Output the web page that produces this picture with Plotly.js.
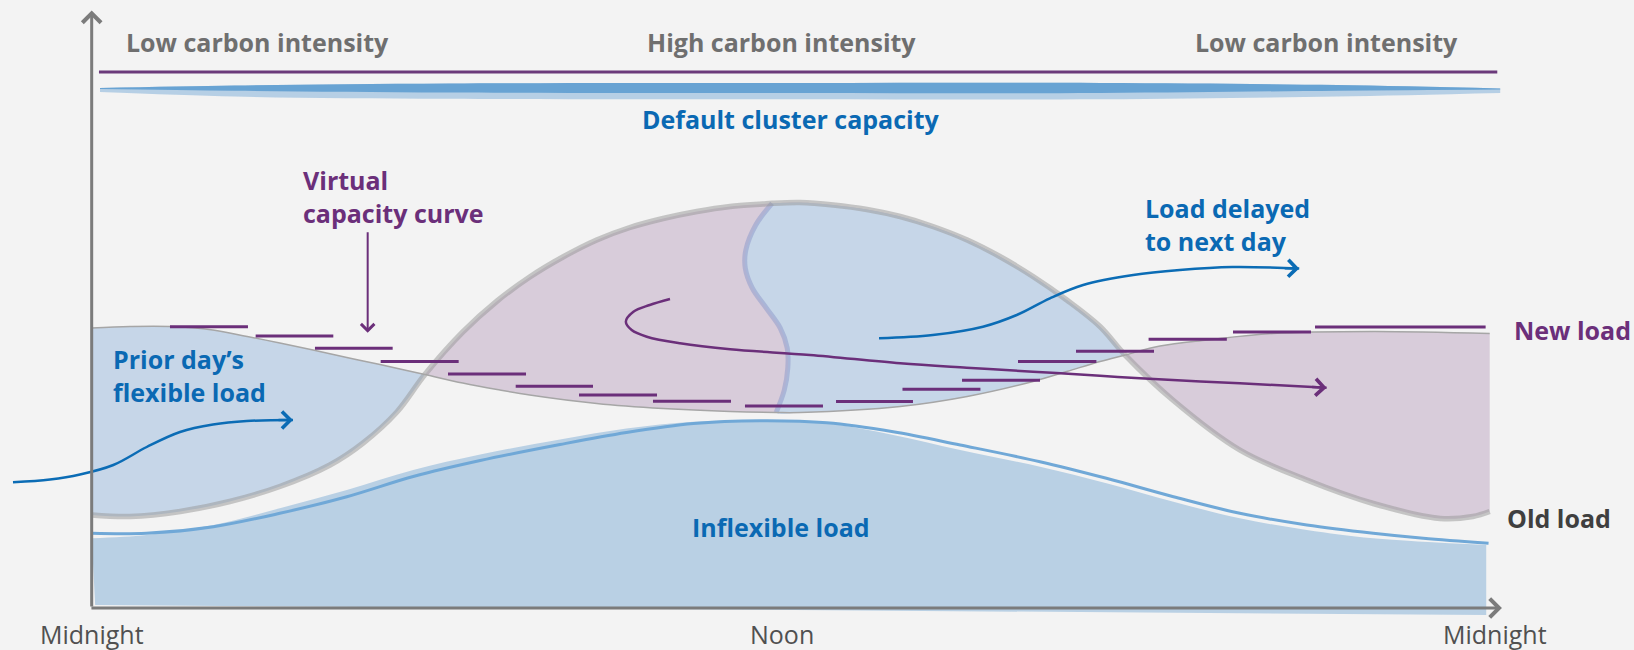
<!DOCTYPE html>
<html>
<head>
<meta charset="utf-8">
<script src="https://cdn.plot.ly/plotly-3.0.1.min.js"></script>
<style>
html,body{margin:0;padding:0;background:#f3f3f3;}
#chart{width:1634px;height:650px;}
</style>
</head>
<body>
<div id="chart"></div>
<script>
// ---------------- DATA (hours of day, load in % of scale) ----------------
const timeTicks = [0, 12, 24];
const timeLabels = ['Midnight', 'Noon', 'Midnight'];

const carbonHours = [2.855, 11.84, 21.2];
const carbonLabels = ['Low carbon intensity', 'High carbon intensity', 'Low carbon intensity'];
const carbonLineLevel = 107.1;
const carbonLineHours = [0.125, 24.13];

// Default cluster capacity band (tapered)
const capHour = [0.143, 2.46, 6.15, 12.16, 17.31, 21.38, 24.18];
const capLightTop = [103.9, 104.4, 104.8, 104.9, 104.9, 104.5, 103.8];
const capLightBottom = [103.1, 102.2, 101.74, 101.64, 101.64, 102.2, 102.9];
const capDarkTop = [103.9, 104.4, 104.8, 104.9, 104.9, 104.5, 103.8];
const capDarkBottom = [103.7, 103.36, 103.0, 102.9, 102.9, 103.36, 103.6];

// Old load (thick grey curve)
const oldLoadHour = [0, 0.66, 1.52, 2.37, 3.23, 4.09, 4.66, 5.24, 5.72, 6.37, 6.96, 7.52, 8.09, 8.67, 9.24, 9.81, 10.39, 10.96, 11.52, 11.68, 12.16, 12.73, 13.31, 13.88, 14.44, 15.03, 15.59, 16.16, 16.74, 17.31, 17.74, 18.56, 19.71, 20.86, 22.0, 23.15, 23.71, 24.0];
const oldLoad = [18.5, 18.2, 19.2, 21.2, 24.2, 28.5, 32.9, 39.1, 46.6, 55.1, 61.3, 66.1, 70.1, 73.5, 76.0, 77.8, 79.2, 80.2, 80.7, 80.84, 81.0, 80.5, 79.6, 78.2, 76.2, 73.5, 70.2, 66.2, 61.5, 56.2, 50.5, 41.5, 31.5, 25.5, 20.8, 17.8, 18.2, 19.2];

// New load (thin grey curve)
const newLoadHour = [0, 0.66, 1.35, 2.08, 2.67, 3.23, 3.80, 4.38, 4.95, 5.72, 6.37, 6.96, 7.52, 8.67, 9.81, 10.96, 11.75, 12.16, 13.88, 15.03, 16.16, 16.74, 17.31, 17.74, 18.34, 19.15, 20.28, 22.0, 24.0];
const newLoad = [55.9, 56.2, 56.2, 55.5, 54.2, 52.9, 51.5, 50.0, 48.6, 46.6, 44.9, 43.6, 42.5, 40.8, 39.8, 39.2, 39.0, 39.0, 40.2, 42.2, 45.2, 47.2, 49.2, 50.5, 52.3, 53.5, 54.8, 55.2, 54.8];

// Where old and new load cross
const crossHours = [5.72, 17.74];

// Split between shifted (purple) and remaining (blue) load around noon
const boundaryHour = [11.68, 11.40, 11.23, 11.22, 11.34, 11.58, 11.82, 11.94, 11.95, 11.89, 11.75];
const boundaryLoad = [80.84, 76.5, 71.5, 67.9, 63.9, 59.9, 55.9, 51.9, 47.9, 43.5, 39.0];

// Inflexible load
const inflexHour = [0, 0.94, 2.09, 3.23, 4.38, 5.52, 6.67, 8.04, 9.18, 10.33, 11.47, 12.62, 13.76, 14.91, 16.28, 17.42, 18.57, 19.71, 20.86, 22.0, 22.86, 23.98];
const inflexLoad = [14.84, 14.84, 16.16, 18.84, 22.16, 26.2, 29.4, 32.6, 35.0, 36.8, 37.36, 36.96, 35.16, 32.5, 29.16, 25.84, 22.16, 18.84, 16.5, 14.84, 13.84, 12.84];
const inflexFillHour = [0, 0.94, 2.09, 3.23, 4.38, 5.52, 6.67, 8.04, 9.18, 10.33, 11.47, 12.62, 13.76, 14.91, 16.28, 17.42, 18.57, 19.71, 20.86, 22.0, 23.94];
const inflexFillLoad = [13.84, 14.5, 16.5, 19.84, 23.5, 27.5, 30.6, 33.6, 35.8, 37.16, 37.5, 36.84, 34.5, 31.5, 28.16, 24.84, 21.16, 17.84, 15.5, 13.84, 12.5];
const inflexBaseHour = [0.06, 23.94];
const inflexBaseLoad = [0.5, -1.5];

// Virtual capacity curve (steps)
const vcStart = [1.344, 2.815, 3.833, 4.961, 6.117, 7.279, 8.366, 9.636, 11.215, 12.778, 13.919, 14.941, 15.902, 16.898, 18.144, 19.593, 21.001];
const vcEnd = [2.683, 4.148, 5.167, 6.300, 7.456, 8.606, 9.705, 10.975, 12.554, 14.099, 15.257, 16.280, 17.248, 18.237, 19.487, 20.932, 23.930];
const vcLevel = [56.16, 54.3, 51.84, 49.2, 46.7, 44.24, 42.5, 41.24, 40.3, 41.2, 43.64, 45.46, 49.2, 51.24, 53.64, 55.1, 56.1];
const vcPointerHour = 4.738;
const vcPointerFrom = 75.36, vcPointerTo = 54.96;

// Flow arrows
const shiftHour = [9.928, 9.58, 9.30, 9.17, 9.27, 9.53, 10.10, 10.96, 12.33, 13.88, 15.02, 16.16, 17.31, 17.996, 19.71, 21.2];
const shiftLoad = [61.7, 60.5, 59.16, 57.16, 55.5, 54.16, 52.84, 51.64, 50.5, 48.84, 47.96, 47.16, 46.36, 45.84, 44.84, 43.96];
const delayHour = [13.516, 14.44, 15.30, 15.88, 16.45, 17.02, 17.88, 18.68, 19.58, 20.73];
const delayLoad = [53.84, 54.5, 56.16, 58.5, 61.84, 64.5, 66.5, 67.5, 68.1, 67.8];
const priorHour = [-1.351, -0.716, -0.201, 0.371, 0.945, 1.516, 2.083, 2.661, 3.456];
const priorLoad = [25.04, 25.6, 26.6, 28.5, 32.1, 35.1, 36.6, 37.3, 37.5];

// ---------------- STYLE ----------------
const BG = '#f3f3f3';
const BLUE_FILL = 'rgb(198,214,232)';
const PURPLE_FILL = 'rgb(216,204,218)';
const INFLEX_FILL = 'rgb(185,208,228)';
const PURPLE = '#6b2f7a';
const BLUE = '#0b6cb5';
const FONT = 'Open Sans, Noto Sans, sans-serif';

function between(xs, ys, a, b) {
  const X = [], Y = [];
  xs.forEach((x, i) => { if (x >= a - 1e-9 && x <= b + 1e-9) { X.push(x); Y.push(ys[i]); } });
  return {x: X, y: Y};
}
const base = {mode: 'lines', hoverinfo: 'skip', showlegend: false};
const traces = [];
function add(t) { traces.push(Object.assign({}, base, t)); }

// Inflexible load area
add({x: inflexBaseHour, y: inflexBaseLoad, line: {width: 0}});
add({x: inflexFillHour, y: inflexFillLoad, line: {width: 0, shape: 'spline'}, fill: 'tonexty', fillcolor: INFLEX_FILL});
add({x: inflexHour, y: inflexLoad, line: {color: '#70a8d7', width: 3, shape: 'spline'}});

// Lens fills between old and new load
const [c1, c2] = crossHours;
function lens(a, b, color) {
  const o = between(oldLoadHour, oldLoad, a, b), n = between(newLoadHour, newLoad, a, b);
  add({x: o.x, y: o.y, line: {width: 0, shape: 'spline'}});
  add({x: n.x, y: n.y, line: {width: 0, shape: 'spline'}, fill: 'tonexty', fillcolor: color});
}
lens(0, c1, BLUE_FILL);
lens(c1, c2, PURPLE_FILL);
lens(c2, 24, PURPLE_FILL);

// Remaining (blue) part of the midday lens
(function () {
  const bt = boundaryHour[0], bb = boundaryHour[boundaryHour.length - 1];
  const o = between(oldLoadHour, oldLoad, bt, c2);
  const n = between(newLoadHour, newLoad, bb, c2);
  const bx = boundaryHour.slice().reverse().slice(1, -1);
  const by = boundaryLoad.slice().reverse().slice(1, -1);
  add({x: o.x.concat(n.x.slice().reverse(), bx), y: o.y.concat(n.y.slice().reverse(), by),
       line: {width: 0, shape: 'spline', smoothing: 0.8}, fill: 'toself', fillcolor: BLUE_FILL});
})();

add({x: boundaryHour, y: boundaryLoad, line: {color: 'rgba(150,160,205,0.6)', width: 5, shape: 'spline'}});
add({x: oldLoadHour, y: oldLoad, line: {color: 'rgba(150,150,150,0.5)', width: 5.5, shape: 'spline'}});
add({x: newLoadHour, y: newLoad, line: {color: '#a6a6a6', width: 1.5, shape: 'spline'}});

// Virtual capacity steps
(function () {
  const x = [], y = [];
  vcStart.forEach((s, i) => { x.push(s, vcEnd[i], null); y.push(vcLevel[i], vcLevel[i], null); });
  add({x, y, line: {color: PURPLE, width: 3}});
})();

// Flow arrows
add({x: shiftHour, y: shiftLoad, line: {color: PURPLE, width: 2.5, shape: 'spline'}});
add({x: delayHour, y: delayLoad, line: {color: BLUE, width: 2.5, shape: 'spline'}});
add({x: priorHour, y: priorLoad, line: {color: BLUE, width: 2.5, shape: 'spline'}});

// Carbon intensity line and default capacity band
add({x: carbonLineHours, y: [carbonLineLevel, carbonLineLevel], line: {color: '#6b3a7b', width: 3}});
add({x: capHour, y: capLightTop, line: {width: 0, shape: 'spline'}});
add({x: capHour, y: capLightBottom, line: {width: 0, shape: 'spline'}, fill: 'tonexty', fillcolor: 'rgba(178,204,228,0.95)'});
add({x: capHour, y: capDarkTop, line: {width: 0, shape: 'spline'}});
add({x: capHour, y: capDarkBottom, line: {width: 0, shape: 'spline'}, fill: 'tonexty', fillcolor: 'rgba(95,157,208,0.9)'});

// ---------------- ANNOTATIONS ----------------
const ann = [];
function txt(x, y, text, color, opts) {
  ann.push(Object.assign({x, y, xref: 'x', yref: 'y', text, showarrow: false,
    font: {family: FONT, size: 25, color, weight: 700}}, opts || {}));
}
function head(x, y, ax, ay, color, w, s, data) {
  const a = {x, y, xref: 'x', yref: 'y', ax, ay, showarrow: true, text: '', arrowhead: 4,
    arrowwidth: w, arrowsize: s, arrowcolor: color, standoff: 0};
  if (data) { a.axref = 'x'; a.ayref = 'y'; }
  ann.push(a);
}
carbonHours.forEach((h, i) => txt(h, 113.1, carbonLabels[i], '#6f6f6f'));
txt(12.0, 97.7, 'Default cluster capacity', '#0a69b3');
txt(3.588, 82.3, 'Virtual<br>capacity curve', PURPLE, {xanchor: 'left', align: 'left'});
txt(18.04, 76.6, 'Load delayed<br>to next day', '#0a69b3', {xanchor: 'left', align: 'left'});
txt(0.326, 46.5, 'Prior day’s<br>flexible load', '#0a69b3', {xanchor: 'left', align: 'left'});
txt(11.84, 16.16, 'Inflexible load', '#0a69b3');
txt(24.38, 55.5, 'New load', PURPLE, {xanchor: 'left'});
txt(24.27, 17.9, 'Old load', '#3f3f3f', {xanchor: 'left'});
const tickShift = [0, -9, 5];
timeTicks.forEach((h, i) => ann.push({x: h, y: -5.22, xref: 'x', yref: 'y', text: timeLabels[i], showarrow: false,
  xshift: tickShift[i], font: {family: FONT, size: 25, color: '#505050'}}));

// axes with arrows
head(24.21, -0.1, -0.03, -0.1, '#7b7b7b', 3, 1.2, true);
head(0, 119.4, 0, -0.1, '#7b7b7b', 3, 1.2, true);
// pointer to virtual capacity curve
head(vcPointerHour, vcPointerTo, vcPointerHour, vcPointerFrom, PURPLE, 2, 1.3, true);
// heads of the flow arrows
head(shiftHour[shiftHour.length - 1], shiftLoad[shiftLoad.length - 1], -16, -0.8, PURPLE, 2.5, 1.3);
head(delayHour[delayHour.length - 1], delayLoad[delayLoad.length - 1], -16, -0.3, BLUE, 2.5, 1.3);
head(priorHour[priorHour.length - 1], priorLoad[priorLoad.length - 1], -16, 0, BLUE, 2.5, 1.3);

const layout = {
  width: 1634, height: 650,
  margin: {l: 0, r: 0, t: 0, b: 0},
  paper_bgcolor: BG, plot_bgcolor: BG,
  showlegend: false, hovermode: false,
  xaxis: {range: [-1.574, 26.477], visible: false, fixedrange: true},
  yaxis: {range: [-8.5, 121.5], visible: false, fixedrange: true},
  annotations: ann
};
Plotly.newPlot('chart', traces, layout, {staticPlot: true, displayModeBar: false});
</script>
</body>
</html>
